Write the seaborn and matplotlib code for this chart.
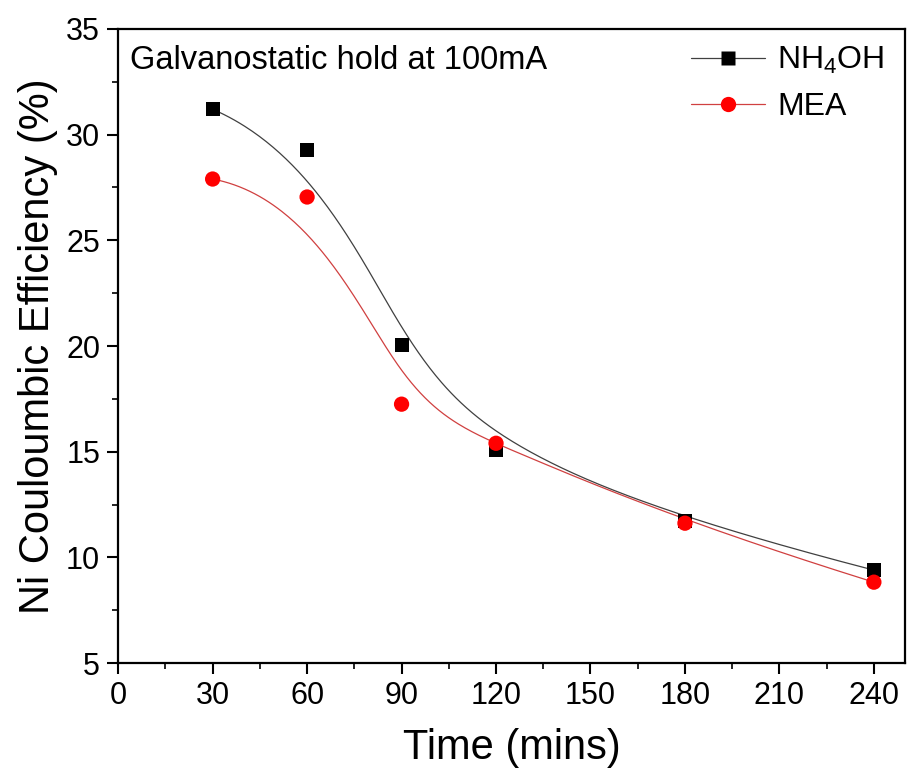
import numpy as np
import pandas as pd
import seaborn as sns
import matplotlib
matplotlib.use("Agg")
import matplotlib.pyplot as plt
from matplotlib.lines import Line2D
from matplotlib.ticker import MultipleLocator

# data
time_mins = [30, 60, 90, 120, 180, 240]
nh4oh = [31.2, 29.27, 20.05, 15.08, 11.72, 9.4]
mea = [27.9, 27.05, 17.25, 15.4, 11.62, 8.83]


def bspline(xs, ys, n=300):
    # clamped cubic B-spline using the data points as control points (Origin style)
    pts = np.column_stack([xs, ys]).astype(float)
    k = 3
    m = len(pts)
    knots = np.concatenate([np.zeros(k), np.arange(m - k + 1), np.full(k, m - k)]).astype(float)
    ts = np.linspace(0, m - k, n)
    out = []
    for t in ts:
        # Cox-de Boor basis
        N = np.zeros(len(knots) - 1)
        for i in range(len(knots) - 1):
            if knots[i] <= t < knots[i + 1]:
                N[i] = 1.0
        if t == knots[-1]:
            N[m - 1] = 1.0
        for d in range(1, k + 1):
            Nn = np.zeros(len(knots) - 1 - d)
            for i in range(len(Nn)):
                a = 0.0
                if knots[i + d] != knots[i]:
                    a = (t - knots[i]) / (knots[i + d] - knots[i]) * N[i]
                b = 0.0
                if knots[i + d + 1] != knots[i + 1]:
                    b = (knots[i + d + 1] - t) / (knots[i + d + 1] - knots[i + 1]) * N[i + 1]
                Nn[i] = a + b
            N = Nn
        out.append(N[:m] @ pts)
    out = np.array(out)
    return out[:, 0], out[:, 1]


sns.set_theme(style="ticks")
plt.rcParams['font.family'] = ['Liberation Sans', 'DejaVu Sans']
plt.rcParams['mathtext.fontset'] = 'custom'
plt.rcParams['mathtext.rm'] = 'Liberation Sans'
plt.rcParams['mathtext.it'] = 'Liberation Sans:italic'
plt.rcParams['text.color'] = 'black'
plt.rcParams['axes.labelcolor'] = 'black'
plt.rcParams['xtick.color'] = 'black'
plt.rcParams['ytick.color'] = 'black'

fig = plt.figure(figsize=(9.09, 7.82), dpi=100)
ax = fig.add_axes([0.130, 0.152, 0.866, 0.811])

series = [("NH4OH", nh4oh, "#404040", "black", "s", 10),
          ("MEA", mea, "#d04040", "red", "o", 11)]

for name, vals, lc, mc, mk, ms in series:
    cx, cy = bspline(time_mins, vals)
    curve = pd.DataFrame({"x": cx, "y": cy})
    sns.lineplot(data=curve, x="x", y="y", color=lc, lw=0.9, sort=False, ax=ax)
    pts = pd.DataFrame({"x": time_mins, "y": vals})
    sns.scatterplot(data=pts, x="x", y="y", color=mc, marker=mk, s=ms ** 2,
                    edgecolor="none", ax=ax, zorder=3)

ax.set_xlim(0, 250)
ax.set_ylim(5, 35)
ax.xaxis.set_major_locator(MultipleLocator(30))
ax.xaxis.set_minor_locator(MultipleLocator(15))
ax.yaxis.set_major_locator(MultipleLocator(5))
ax.yaxis.set_minor_locator(MultipleLocator(2.5))
ax.tick_params(which='major', direction='out', length=8, width=1.5, labelsize=22, pad=5)
ax.tick_params(which='minor', direction='out', length=4, width=1.2)
for s in ax.spines.values():
    s.set_linewidth(1.6)
    s.set_color('black')

ax.set_xlabel("Time (mins)", fontsize=30, labelpad=12)
ax.set_ylabel("Ni Couloumbic Efficiency (%)", fontsize=30, labelpad=6)

ax.text(0.015, 0.975, "Galvanostatic hold at 100mA", transform=ax.transAxes,
        fontsize=23.5, va='top', ha='left')

handles = [Line2D([], [], color="#404040", lw=0.9, marker='s', markersize=10,
                  markerfacecolor='black', markeredgecolor='none'),
           Line2D([], [], color="#d04040", lw=0.9, marker='o', markersize=11,
                  markerfacecolor='red', markeredgecolor='none')]
ax.legend(handles, ["NH$_4$OH", "MEA"], loc='upper right', frameon=False,
          fontsize=23, handlelength=2.3, handletextpad=0.4, labelspacing=0.5,
          borderaxespad=0.0, bbox_to_anchor=(0.99, 0.995))

plt.savefig("out.png", dpi=100)
